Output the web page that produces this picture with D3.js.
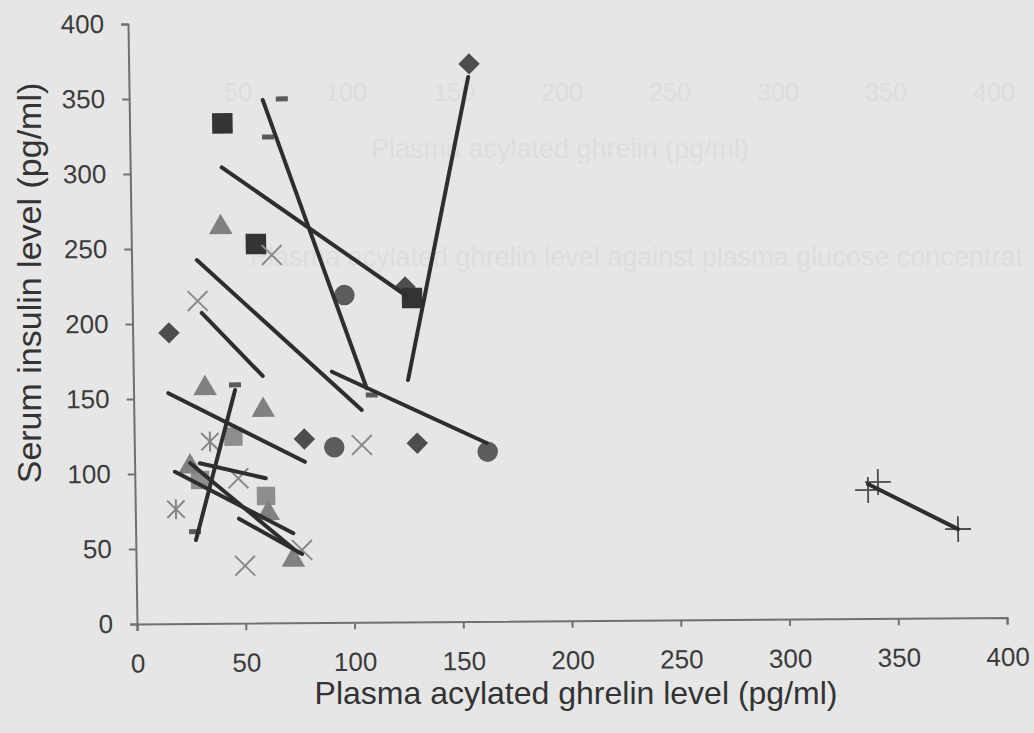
<!DOCTYPE html>
<html>
<head>
<meta charset="utf-8">
<script src="https://cdn.jsdelivr.net/npm/d3@7"></script>
<style>
  body { margin: 0; background: #e6e6e6; }
  svg { display: block; font-family: "Liberation Sans", Arial, sans-serif; }
</style>
</head>
<body>
<div id="chart"></div>
<script>
var xTicks = [0, 50, 100, 150, 200, 250, 300, 350, 400];
var yTicks = [0, 50, 100, 150, 200, 250, 300, 350, 400];

// one array per subject, [ghrelin, insulin]
var diamondsA = [[125.6, 223.3], [130.1, 119.1], [156.5, 371.7]];
var diamondsB = [[16.7, 193.9], [78.2, 122.5]];
var squaresDark = [[42.7, 333.3], [57.3, 252.7], [128.7, 215.9]];
var squaresLight = [[30, 95.7], [45.6, 124.4], [60.2, 84.7]];
var trianglesA = [[41.2, 264], [32.9, 156.8], [59.5, 142]];
var trianglesB = [[25.5, 104.6], [61.1, 73.1], [72.3, 41.9]];
var crossesA = [[30.1, 215], [64.5, 245.3], [104.6, 118.2]];
var crossesB = [[47.6, 96.6], [50.1, 38.3], [76.4, 48.5]];
var asterisks = [[18.7, 76.3], [34.8, 121.2]];
var circles = [[97.6, 218.2], [91.9, 116.8], [162.4, 113.1]];
var dashesA = [[70.2, 349.3], [63.6, 324], [109.5, 151.5]];
var dashesB = [[46.7, 158.9], [27.3, 61.3]];
var pluses = [[337, 85.6], [341.6, 90.9], [378.1, 59.1]];

// linear trend lines: [x0, y0, x1, y1]
var trends = [
  [61.4, 348.7, 107.2, 156],
  [42.1, 304, 126.9, 216.6],
  [126.3, 161.3, 156, 362.9],
  [30, 242.3, 104.8, 141.5],
  [31.9, 207, 59.5, 164.7],
  [16, 153.7, 78.3, 107.3],
  [27.7, 55.7, 46.7, 155.5],
  [30, 106.8, 60.2, 96.5],
  [18.5, 101.3, 72.5, 59.7],
  [47.6, 69.7, 76.4, 45.8],
  [91.3, 167.2, 162, 118.9],
  [25.5, 107, 72.3, 49.5],
  [337, 89.6, 378.1, 59.1]
];

var width = 1034, height = 733;

var svg = d3.select("#chart").append("svg")
  .attr("width", width)
  .attr("height", height);

svg.append("rect").attr("width", width).attr("height", height).attr("fill", "#e6e6e6");

// faint show-through from the other side of the scanned page
var ghost = svg.append("g").attr("fill", "#dddddd").style("font-size", "25px");
ghost.selectAll("text.gt").data(xTicks.slice(1)).enter().append("text")
  .attr("x", function(d, i) { return 238 + i * 108; })
  .attr("y", 101)
  .attr("text-anchor", "middle")
  .text(function(d) { return d; });
ghost.append("text").attr("x", 560).attr("y", 158).attr("text-anchor", "middle")
  .style("font-size", "27px").text("Plasma acylated ghrelin (pg/ml)");
ghost.append("text").attr("x", 250).attr("y", 266)
  .style("font-size", "27px").text("Plasma acylated ghrelin level against plasma glucose concentrat");

var x = d3.scaleLinear().domain([0, 400]).range([0, 870]);
var y = d3.scaleLinear().domain([0, 400]).range([0, -600]);

// scanned page is slightly skewed
var g = svg.append("g")
  .attr("transform", "translate(137,624) matrix(1,-0.0076,0.015,1,0,0)");

var xAxis = g.append("g")
  .call(d3.axisBottom(x).tickValues(xTicks).tickSize(7).tickPadding(23).tickSizeOuter(7));
var yAxis = g.append("g")
  .call(d3.axisLeft(y).tickValues(yTicks).tickSize(7).tickPadding(17).tickSizeOuter(7));

[xAxis, yAxis].forEach(function(a) {
  a.select(".domain").attr("stroke", "#707070").attr("stroke-width", 2);
  a.selectAll(".tick line").attr("stroke", "#707070").attr("stroke-width", 2);
  a.selectAll(".tick text")
    .attr("fill", "#3c3c3c")
    .style("font-size", "26px")
    .style("font-family", "'Liberation Sans', Arial, sans-serif");
});

function px(d) { return x(d[0]); }
function py(d) { return y(d[1]); }

var marks = g.append("g");
var sym = d3.symbol();

function filled(data, type, size, color, rot) {
  marks.selectAll(null).data(data).enter().append("path")
    .attr("d", sym.type(type).size(size)())
    .attr("fill", color)
    .attr("transform", function(d) {
      return "translate(" + px(d) + "," + py(d) + ")" + (rot ? " rotate(" + rot + ")" : "");
    });
}

function stroked(data, type, size, color, rot, sw) {
  marks.selectAll(null).data(data).enter().append("path")
    .attr("d", sym.type(type).size(size)())
    .attr("fill", "none")
    .attr("stroke", color)
    .attr("stroke-width", sw)
    .attr("transform", function(d) {
      return "translate(" + px(d) + "," + py(d) + ")" + (rot ? " rotate(" + rot + ")" : "");
    });
}

filled(diamondsA, d3.symbolSquare, 230, "#4d4d4d", 45);
filled(diamondsB, d3.symbolSquare, 230, "#4d4d4d", 45);
filled(squaresDark, d3.symbolSquare, 420, "#343434");
filled(squaresLight, d3.symbolSquare, 340, "#8e8e8e");
filled(trianglesA, d3.symbolTriangle, 240, "#808080");
filled(trianglesB, d3.symbolTriangle, 240, "#808080");
filled(circles, d3.symbolCircle, 330, "#5c5c5c");
stroked(crossesA, d3.symbolTimes, 260, "#8a8a8a", 0, 2);
stroked(crossesB, d3.symbolTimes, 260, "#8a8a8a", 0, 2);
stroked(asterisks, d3.symbolTimes, 200, "#858585", 0, 2);
stroked(pluses, d3.symbolPlus, 220, "#4a4a4a", 0, 1.8);

// asterisk vertical stroke
marks.selectAll(null).data(asterisks).enter().append("line")
  .attr("x1", px).attr("x2", px)
  .attr("y1", function(d) { return py(d) - 10; })
  .attr("y2", function(d) { return py(d) + 10; })
  .attr("stroke", "#858585").attr("stroke-width", 2);

// dash markers
marks.selectAll(null).data(dashesA.concat(dashesB)).enter().append("rect")
  .attr("x", function(d) { return px(d) - 6; })
  .attr("y", function(d) { return py(d) - 2.5; })
  .attr("width", 12).attr("height", 5)
  .attr("fill", "#5a5a5a");

g.append("g").selectAll("line").data(trends).enter().append("line")
  .attr("x1", function(d) { return x(d[0]); })
  .attr("y1", function(d) { return y(d[1]); })
  .attr("x2", function(d) { return x(d[2]); })
  .attr("y2", function(d) { return y(d[3]); })
  .attr("stroke", "#2e2e2e")
  .attr("stroke-width", 4)
  .attr("stroke-linecap", "round");

svg.append("text")
  .attr("x", 576).attr("y", 704)
  .attr("text-anchor", "middle")
  .attr("fill", "#333")
  .style("font-size", "32px")
  .text("Plasma acylated ghrelin level (pg/ml)");

svg.append("text")
  .attr("transform", "translate(41,283) rotate(-90)")
  .attr("text-anchor", "middle")
  .attr("fill", "#333")
  .style("font-size", "34px")
  .text("Serum insulin level (pg/ml)");
</script>
</body>
</html>
